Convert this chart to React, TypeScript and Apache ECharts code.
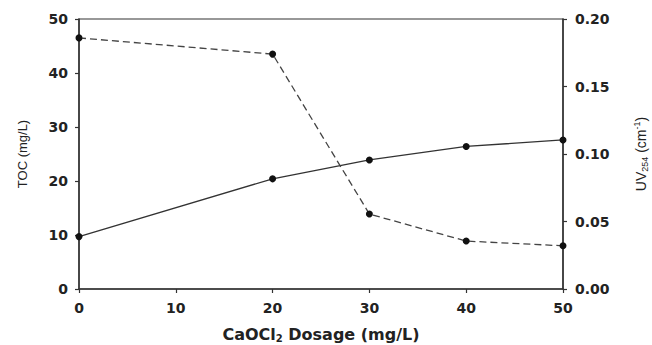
import React, { useEffect, useRef } from "react";
import * as echarts from "echarts";

const dosage = [0, 20, 30, 40, 50];
const tocValues = [9.7, 20.4, 23.9, 26.4, 27.6];
const uvValues = [0.186, 0.174, 0.0555, 0.0355, 0.032];
const leftTicks = [0, 10, 20, 30, 40, 50];

export default function App() {
  const ref = useRef<HTMLDivElement>(null);
  useEffect(() => {
    if (!ref.current) return;
    const chart = echarts.init(ref.current, undefined, { renderer: "svg" });
    const font = "DejaVu Sans, sans-serif";
    const sans = "Liberation Sans, Arial, sans-serif";
    const labelStyle = { color: "#222", fontSize: 14, fontWeight: "bold" as const, fontFamily: font };
    chart.setOption({
      animation: false,
      backgroundColor: "#fff",
      grid: {
        left: 79, right: 89, top: 19, bottom: 56,
        outerBoundsMode: "none",
        containLabel: false,
        show: true, borderColor: "#333", borderWidth: 1.2, backgroundColor: "transparent",
      },
      xAxis: {
        type: "value",
        min: 0,
        max: 50,
        interval: 10,
        splitLine: { show: false },
        axisLine: { lineStyle: { color: "#333", width: 1.5 } },
        axisTick: { length: 4, lineStyle: { color: "#333", width: 1.2 } },
        axisLabel: { ...labelStyle, margin: 12 },
        name: "{a|CaOCl}{s|2}{a| Dosage (mg/L)}",
        nameLocation: "middle",
        nameGap: 37,
        nameTextStyle: {
          rich: {
            a: { ...labelStyle, fontSize: 16 },
            s: { ...labelStyle, fontSize: 10, padding: [7, 0, 0, 0] },
          },
        },
      },
      yAxis: [
        {
          type: "value",
          min: leftTicks[0],
          max: leftTicks[leftTicks.length - 1],
          interval: 10,
          splitLine: { show: false },
          axisLine: { show: true, lineStyle: { color: "#333", width: 1.5 } },
          axisTick: { show: true, length: 4, lineStyle: { color: "#333", width: 1.2 } },
          axisLabel: { ...labelStyle, margin: 11 },
          name: "TOC (mg/L)",
          nameLocation: "middle",
          nameRotate: 90,
          nameGap: 50,
          nameTextStyle: { color: "#222", fontSize: 13, fontWeight: "normal", fontFamily: sans },
        },
        {
          type: "value",
          min: 0,
          max: 0.2,
          interval: 0.05,
          position: "right",
          splitLine: { show: false },
          axisLine: { show: true, lineStyle: { color: "#333", width: 1.5 } },
          axisTick: { show: true, length: 4, lineStyle: { color: "#333", width: 1.2 } },
          axisLabel: { ...labelStyle, margin: 12, formatter: (v: number) => v.toFixed(2) },
          name: "{a|UV}{s|254}{a| (cm}{p|-1}{a|)}",
          nameLocation: "middle",
          nameRotate: 90,
          nameGap: 69,
          nameTextStyle: {
            rich: {
              a: { color: "#222", fontSize: 14, fontFamily: sans },
              s: { color: "#222", fontSize: 9, fontFamily: sans, padding: [8, 0, 0, 0] },
              p: { color: "#222", fontSize: 9, fontFamily: sans, padding: [0, 0, 8, 0] },
            },
          },
        },
      ],
      series: [
        {
          type: "line",
          name: "TOC",
          yAxisIndex: 0,
          data: dosage.map((d, i) => [d, tocValues[i]]),
          symbol: "circle",
          symbolSize: 7,
          itemStyle: { color: "#111" },
          lineStyle: { color: "#333", width: 1.3, type: "solid" },
        },
        {
          type: "line",
          name: "UV254",
          yAxisIndex: 1,
          data: dosage.map((d, i) => [d, uvValues[i]]),
          symbol: "circle",
          symbolSize: 7,
          itemStyle: { color: "#111" },
          lineStyle: { color: "#444", width: 1.3, type: [7, 4] },
        },
      ],
    });
    return () => chart.dispose();
  }, []);
  return <div ref={ref} style={{ width: 652, height: 345, position: "absolute", left: 0, top: 0 }} />;
}
